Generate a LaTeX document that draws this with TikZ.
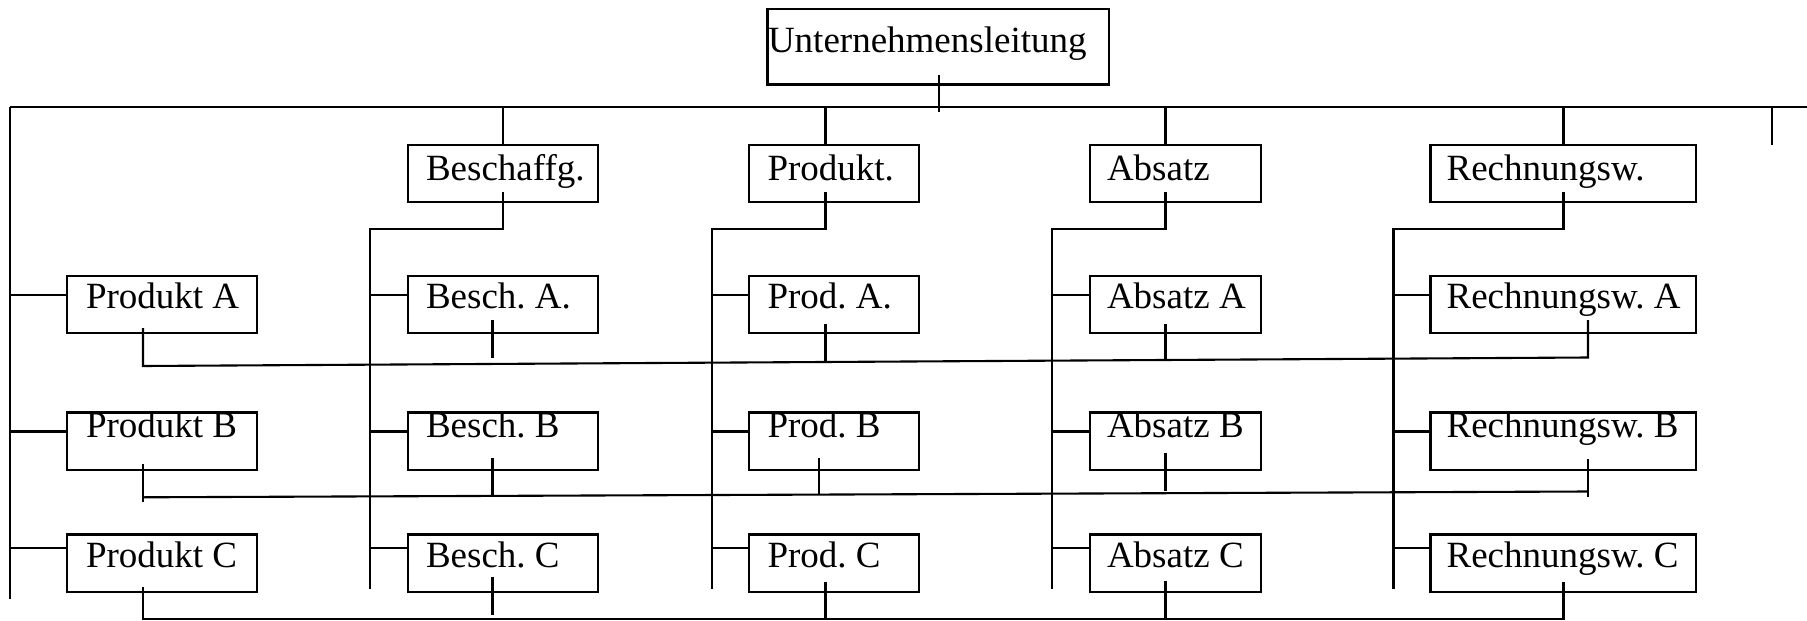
\documentclass[tikz,border=0pt]{standalone}
\usepackage{fontspec}
\setmainfont{Liberation Serif}
\frenchspacing
\tikzset{
  x=1pt, y=-1pt,
  unitbox/.style={draw, line width=2.2pt, rectangle, inner sep=0pt, outer sep=0pt},
  lbl/.style={anchor=base west, inner sep=0pt, outer sep=0pt, font=\fontsize{37}{44}\selectfont},
  wire/.style={line width=2.1pt, line cap=butt, line join=miter},
}
% \orgbox{name}{left}{top}{right}{bottom}{text x}{baseline}{text}
\newcommand\orgbox[8]{%
  \node[unitbox, minimum width={(#4-#2)*1pt}, minimum height={(#5-#3)*1pt}]
    (#1) at ({(#2+#4)/2},{(#3+#5)/2}) {};
  \node[lbl] (#1-t) at (#6,#7) {#8};
}
\begin{document}
\begin{tikzpicture}
\useasboundingbox (0,0) rectangle (1807,621);

% top management
\orgbox{ul}{767.5}{9}{1109}{84.5}{768}{52}{Unternehmensleitung}

% functional departments
\orgbox{bes}{407.6}{145}{598.2}{202}{426}{180}{Beschaffg.}
\orgbox{pro}{749}{145}{919}{202}{767.5}{180}{Produkt.}
\orgbox{abs}{1089.7}{145}{1261}{202}{1107}{180}{Absatz}
\orgbox{rec}{1430.4}{145}{1696}{202}{1446.6}{180}{Rechnungsw.}

% product line A
\orgbox{pa}{67}{276}{256.6}{333}{86}{308}{Produkt A}
\orgbox{ba}{407.6}{276}{598.2}{333}{426}{308}{Besch. A.}
\orgbox{da}{749}{276}{919}{333}{767.5}{308}{Prod. A.}
\orgbox{aa}{1089.7}{276}{1261}{333}{1107}{308}{Absatz A}
\orgbox{ra}{1430.4}{276}{1696}{333}{1446.6}{308}{Rechnungsw. A}

% product line B
\orgbox{pb}{67}{412.5}{256.6}{470}{86}{437}{Produkt B}
\orgbox{bb}{407.6}{412.5}{598.2}{470}{426}{437}{Besch. B}
\orgbox{db}{749}{412.5}{919}{470}{767.5}{437}{Prod. B}
\orgbox{ab}{1089.7}{412.5}{1261}{470}{1107}{437}{Absatz B}
\orgbox{rb}{1430.4}{412.5}{1696}{470}{1446.6}{437}{Rechnungsw. B}

% product line C
\orgbox{pc}{67}{534.5}{256.6}{592}{86}{567}{Produkt C}
\orgbox{bc}{407.6}{534.5}{598.2}{592}{426}{567}{Besch. C}
\orgbox{dc}{749}{534.5}{919}{592}{767.5}{567}{Prod. C}
\orgbox{ac}{1089.7}{534.5}{1261}{592}{1107}{567}{Absatz C}
\orgbox{rc}{1430.4}{534.5}{1696}{592}{1446.6}{567}{Rechnungsw. C}

% main bus below the management
\draw[wire] (939,75) -- (939,112);
\draw[wire] (10,107) -- (1807,107);
\draw[wire] (1771.7,107) -- (1771.7,145);
\foreach \x/\n in {503/bes, 825.5/pro, 1165.5/abs, 1563.5/rec}
  \draw[wire] (\x,107) -- (\n.north -| \x,0);

% product column (left spine)
\draw[wire] (10,107) -- (10,599);

% department spines
\draw[wire] (503,192) -- (503,229) -- (370,229) -- (370,589);
\draw[wire] (825.5,192) -- (825.5,229) -- (712,229) -- (712,589);
\draw[wire] (1165.5,192) -- (1165.5,229) -- (1052,229) -- (1052,589);
\draw[wire] (1563.5,192) -- (1563.5,229) -- (1393.5,229) -- (1393.5,589);

% stubs from spines to boxes
\foreach \x/\c in {10/p, 370/b, 712/d, 1052/a, 1393.5/r}{
  \draw[wire] (\x,295.3) -- (\c a.west |- 0,295.3);
  \draw[wire] (\x,431.5) -- (\c b.west |- 0,431.5);
  \draw[wire] (\x,548.3) -- (\c c.west |- 0,548.3);
}

% product line A cross connection
\draw[wire] (143,328) -- (143,366) -- (1588,357.5) -- (1588,320);
\draw[wire] (492.5,320) -- (492.5,357.7);
\draw[wire] (825.5,324) -- (825.5,361.3);
\draw[wire] (1165.5,324) -- (1165.5,361);

% product line B cross connection
\draw[wire] (143,464) -- (143,502);
\draw[wire] (143,497.3) -- (1588,491.5);
\draw[wire] (1588,459) -- (1588,497);
\draw[wire] (492.5,458) -- (492.5,495);
\draw[wire] (819,458) -- (819,494);
\draw[wire] (1165.5,453) -- (1165.5,491);

% product line C cross connection
\draw[wire] (143,587) -- (143,619) -- (1563.5,619) -- (1563.5,582);
\draw[wire] (492.5,577) -- (492.5,615);
\draw[wire] (825.5,582) -- (825.5,619);
\draw[wire] (1165.5,581) -- (1165.5,619);
\end{tikzpicture}
\end{document}
